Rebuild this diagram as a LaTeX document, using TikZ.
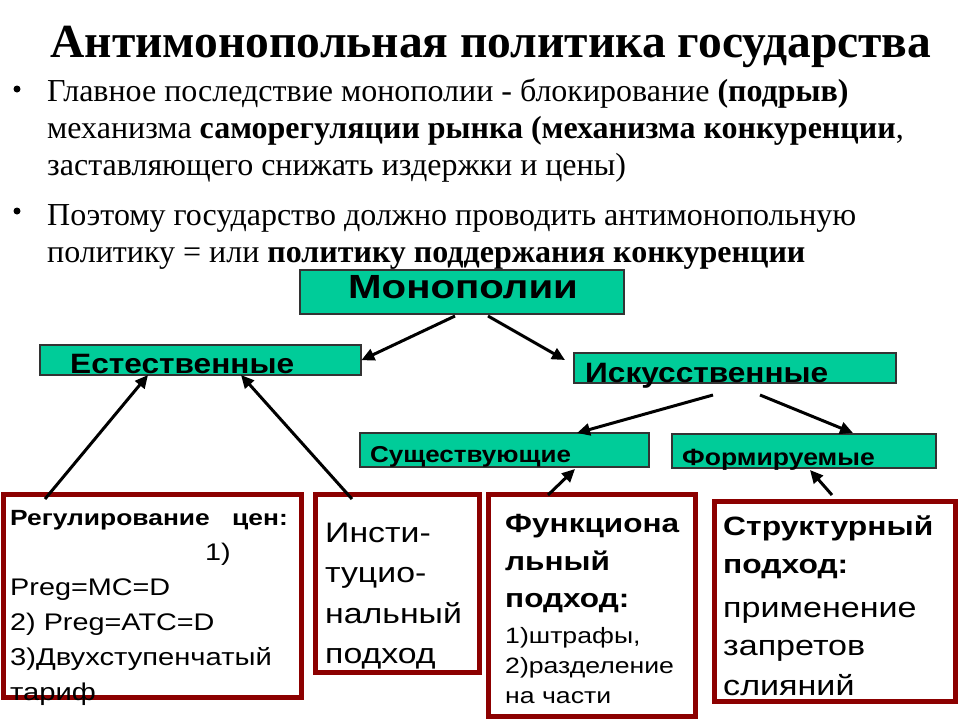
\documentclass[tikz,border=0pt]{standalone}
\usepackage{fontspec}
\setmainfont{Liberation Serif}
\setsansfont{Liberation Sans}
\newfontfamily\sfa[FakeStretch=1.2]{Liberation Sans}
\newfontfamily\sfb[FakeStretch=1.13]{Liberation Sans}
\usetikzlibrary{arrows.meta}
\definecolor{boxgreen}{RGB}{0,204,153}
\definecolor{boxred}{RGB}{140,0,0}
\begin{document}
\begin{tikzpicture}[x=1pt,y=-1pt,
  greenbox/.style={draw=black!80,line width=1.2pt,fill=boxgreen},
  redbox/.style={draw=boxred,line width=5pt},
  txt/.style={inner sep=0pt,anchor=base west},
  arr/.style={line width=3pt,-{Stealth[length=13pt,width=12pt,inset=0pt]}},
  ser/.style={inner sep=0pt,anchor=base west}]
\useasboundingbox (0,0) rectangle (960,720);
\fill[white] (0,0) rectangle (960,720);
% title
\node[inner sep=0pt,anchor=base] (title) at (491,57) {\fontsize{47.5}{56}\selectfont\bfseries Антимонопольная политика государства};
% bullets
\fill (17,89) circle (3.5) coordinate (b1);
\fill (17,211) circle (3.5) coordinate (b2);
\node[ser] (l1) at (47,101) {\fontsize{32}{37}\selectfont Главное последствие монополии - блокирование \textbf{(подрыв)}};
\node[ser] (l2) at (47,138) {\fontsize{32}{37}\selectfont механизма \textbf{саморегуляции рынка (механизма конкуренции},};
\node[ser] (l3) at (47,175) {\fontsize{32}{37}\selectfont заставляющего снижать издержки и цены)};
\node[ser] (l4) at (47,225) {\fontsize{32}{37}\selectfont Поэтому государство должно проводить антимонопольную};
\node[ser] (l5) at (47,262) {\fontsize{32}{37}\selectfont политику = или \textbf{политику поддержания конкуренции}};
% green boxes
\path[greenbox] (300,270) rectangle (624,314);
\node[inner sep=0pt,minimum width=324pt,minimum height=44pt,anchor=north west] (mono) at (300,270) {};
\node[txt] (monot) at (348,298) {\fontsize{33.5}{40}\sfa\bfseries Монополии};
\path[greenbox] (40,345) rectangle (361,375);
\node[inner sep=0pt,minimum width=321pt,minimum height=30pt,anchor=north west] (nat) at (40,345) {};
\node[txt] (natt) at (70,373) {\fontsize{28}{34}\sfb\bfseries Естественные};
\path[greenbox] (574,353) rectangle (896,383);
\node[inner sep=0pt,minimum width=322pt,minimum height=30pt,anchor=north west] (art) at (574,353) {};
\node[txt] (artt) at (585,382) {\fontsize{28}{34}\sfb\bfseries Искусственные};
\path[greenbox] (360,433) rectangle (649,467);
\node[inner sep=0pt,minimum width=289pt,minimum height=34pt,anchor=north west] (ex) at (360,433) {};
\node[txt] (ext) at (370,462) {\fontsize{23}{28}\sfb\bfseries Существующие};
\path[greenbox] (672,434) rectangle (936,468);
\node[inner sep=0pt,minimum width=264pt,minimum height=34pt,anchor=north west] (fm) at (672,434) {};
\node[txt] (fmt) at (682,465) {\fontsize{23.5}{28}\sfb\bfseries Формируемые};
% red boxes
\draw[redbox] (3,494) rectangle (301,697);
\node[inner sep=0pt,minimum width=298pt,minimum height=203pt,anchor=north west] (r1) at (3,494) {};
\draw[redbox] (315,494) rectangle (479,672);
\node[inner sep=0pt,minimum width=164pt,minimum height=178pt,anchor=north west] (r2) at (315,494) {};
\draw[redbox] (488,494) rectangle (695,716);
\node[inner sep=0pt,minimum width=207pt,minimum height=222pt,anchor=north west] (r3) at (488,494) {};
\draw[redbox] (714,501) rectangle (955,701);
\node[inner sep=0pt,minimum width=241pt,minimum height=200pt,anchor=north west] (r4) at (714,501) {};
% box 1 text
\node[txt] (t11) at (10,525) {\fontsize{22}{26}\sfa\bfseries Регулирование};
\node[txt,anchor=base east] (t12) at (288,525) {\fontsize{22}{26}\sfa\bfseries цен:};
\node[txt] (t13) at (205,560) {\fontsize{24}{29}\sfa 1)};
\node[txt] (t14) at (10,595) {\fontsize{24}{29}\sfa Preg=MC=D};
\node[txt] (t15) at (10,630) {\fontsize{24}{29}\sfa 2) Preg=ATC=D};
\node[txt] (t16) at (10,665) {\fontsize{24.3}{29}\sfa 3)Двухступенчатый};
\node[txt] (t17) at (10,700) {\fontsize{24.3}{29}\sfa тариф};
% box 2 text
\node[txt] (t21) at (325,542) {\fontsize{28.2}{34}\sfa Инсти-};
\node[txt] (t22) at (325,582) {\fontsize{28.2}{34}\sfa туцио-};
\node[txt] (t23) at (325,623) {\fontsize{28.2}{34}\sfa нальный};
\node[txt] (t24) at (325,663) {\fontsize{28.2}{34}\sfa подход};
% box 3 text
\node[txt] (t31) at (505,532) {\fontsize{26.3}{30}\sfa\bfseries Функциона};
\node[txt] (t32) at (505,570) {\fontsize{26.3}{30}\sfa\bfseries льный};
\node[txt] (t33) at (505,607) {\fontsize{26.3}{30}\sfa\bfseries подход:};
\node[txt] (t34) at (505,643) {\fontsize{22.2}{26}\sfa 1)штрафы,};
\node[txt] (t35) at (505,673) {\fontsize{22.2}{26}\sfa 2)разделение};
\node[txt] (t36) at (505,703) {\fontsize{22.2}{26}\sfa на части};
% box 4 text
\node[txt] (t41) at (723,535) {\fontsize{26.5}{30}\sfa\bfseries Структурный};
\node[txt] (t42) at (723,573) {\fontsize{26.5}{30}\sfa\bfseries подход:};
\node[txt] (t43) at (723,617) {\fontsize{28.4}{34}\sfa применение};
\node[txt] (t44) at (723,655) {\fontsize{28.4}{34}\sfa запретов};
\node[txt] (t45) at (723,695) {\fontsize{28.4}{34}\sfa слияний};
% connector end points
\coordinate (m1) at (455,316);
\coordinate (m2) at (488,316);
\coordinate (a2) at (565,360);
\coordinate (i1) at (713,395);
\coordinate (i2) at (760,395);
\coordinate (e1) at (577,433);
\coordinate (f1) at (853,433);
\coordinate (s1) at (45,499);
\coordinate (n1) at (148,375);
\coordinate (s2) at (352,499);
\coordinate (n2) at (241,375);
\coordinate (s3) at (548,495);
\coordinate (e2) at (575,469);
\coordinate (s4) at (832,495);
\coordinate (f2) at (810,470);
\draw[arr] (m1) -- (nat.east);
\draw[arr] (m2) -- (a2);
\draw[arr] (i1) -- (e1);
\draw[arr] (i2) -- (f1);
\draw[arr] (s1) -- (n1);
\draw[arr] (s2) -- (n2);
\draw[arr] (s3) -- (e2);
\draw[arr] (s4) -- (f2);
\end{tikzpicture}
\end{document}
